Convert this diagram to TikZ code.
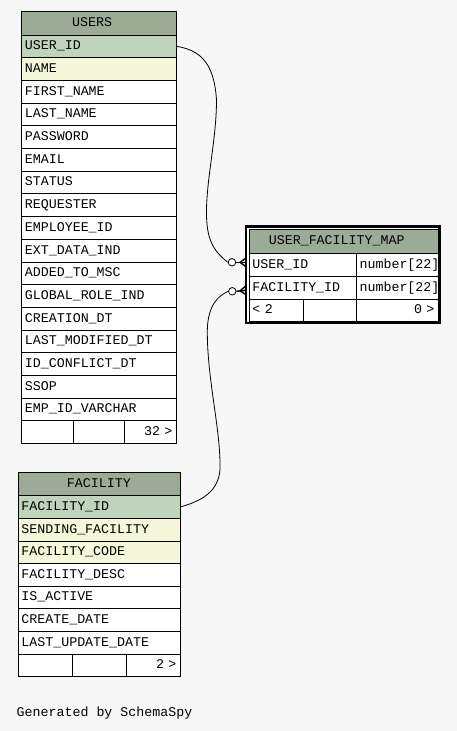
\documentclass[tikz,border=0pt]{standalone}
\usepackage{fontspec}
\newfontfamily\monofnt{Liberation Mono}
\usetikzlibrary{calc}
\definecolor{hdr}{HTML}{9BAB96}
\definecolor{pk}{HTML}{BFD4BB}
\definecolor{idx}{HTML}{F4F7DA}
\definecolor{bg}{HTML}{F7F7F7}
\begin{document}
\begin{tikzpicture}[x=1pt,y=-1pt,
  txt/.style={font=\monofnt\fontsize{13.3}{14}\selectfont, text=black, text height=9pt, text depth=2pt},
  cell/.style={txt, draw=black, line width=0.8pt, anchor=north west, inner xsep=3.5pt, inner ysep=0pt, fill=white},
  hdrtxt/.style={txt, inner sep=0pt},
  conn/.style={draw=black, line width=0.8pt},
  crow/.style={draw=black, line width=1.4pt},
  ring/.style={circle, draw=black, line width=0.8pt, fill=white, minimum size=7.5pt, inner sep=0pt}]
\useasboundingbox (0,0) rectangle (457,731);
\fill[bg] (0,0) rectangle (457,731);

% USERS
\node[cell, fill=hdr, minimum width=154.5pt, minimum height=23.5pt] (uh) at (21,11) {};
\node[hdrtxt] (uht) at ($(uh.center)+(-6.5,0)$) {USERS};
\foreach \t/\c [count=\i from 0] in {USER\_ID/pk, NAME/idx, FIRST\_NAME/white, LAST\_NAME/white, PASSWORD/white, EMAIL/white, STATUS/white, REQUESTER/white, EMPLOYEE\_ID/white, EXT\_DATA\_IND/white, ADDED\_TO\_MSC/white, GLOBAL\_ROLE\_IND/white, CREATION\_DT/white, LAST\_MODIFIED\_DT/white, ID\_CONFLICT\_DT/white, SSOP/white, EMP\_ID\_VARCHAR/white}
  \node[cell, fill=\c, minimum width=154.5pt, minimum height=22.7pt, text width=147.5pt, align=left] (u\i) at (21,{34.5+22.7*\i}) {\t};
\node[cell, minimum width=52pt, minimum height=22.7pt] (uf1) at (21,420.4) {};
\node[cell, minimum width=51pt, minimum height=22.7pt] (uf2) at (73,420.4) {};
\node[cell, minimum width=51.5pt, minimum height=22.7pt, text width=44.5pt, align=right] (uf3) at (124,420.4) {32 >};

% FACILITY
\node[cell, fill=hdr, minimum width=162pt, minimum height=23.6pt] (fh) at (17.5,471.7) {};
\node[hdrtxt] (fht) at (fh.center) {FACILITY};
\foreach \t/\c [count=\i from 0] in {FACILITY\_ID/pk, SENDING\_FACILITY/idx, FACILITY\_CODE/idx, FACILITY\_DESC/white, IS\_ACTIVE/white, CREATE\_DATE/white, LAST\_UPDATE\_DATE/white}
  \node[cell, fill=\c, minimum width=162pt, minimum height=22.6pt, text width=155pt, align=left] (f\i) at (17.5,{495.3+22.6*\i}) {\t};
\node[cell, minimum width=54.8pt, minimum height=22.6pt] (ff1) at (17.5,653.5) {};
\node[cell, minimum width=53.4pt, minimum height=22.6pt] (ff2) at (72.3,653.5) {};
\node[cell, minimum width=53.8pt, minimum height=22.6pt, text width=46.8pt, align=right] (ff3) at (125.7,653.5) {2 >};

% USER_FACILITY_MAP
\node[draw=black, fill=white, line width=2.5pt, anchor=north west, inner sep=0pt, outer sep=0pt, minimum width=193.5pt, minimum height=96.5pt] (mframe) at (246,226.3) {};
\node[cell, fill=hdr, minimum width=189pt, minimum height=24.5pt] (mh) at (248.5,228.8) {};
\node[hdrtxt] (mht) at ($(mh.center)+(-6.7,0)$) {USER\_FACILITY\_MAP};
\node[cell, minimum width=107.2pt, minimum height=22.7pt, text width=100.2pt, align=left] (m0) at (248.5,253.3) {USER\_ID};
\node[cell, minimum width=81.8pt, minimum height=22.7pt, text width=74.8pt, align=left] (m0t) at (355.7,253.3) {number[22]};
\node[cell, minimum width=107.2pt, minimum height=22.7pt, text width=100.2pt, align=left] (m1) at (248.5,276) {FACILITY\_ID};
\node[cell, minimum width=81.8pt, minimum height=22.7pt, text width=74.8pt, align=left] (m1t) at (355.7,276) {number[22]};
\node[cell, minimum width=54.8pt, minimum height=22.3pt, text width=47.8pt, align=left] (mf1) at (248.5,298.7) {< 2};
\node[cell, minimum width=52.4pt, minimum height=22.3pt] (mf2) at (303.3,298.7) {};
\node[cell, minimum width=81.8pt, minimum height=22.3pt, text width=74.8pt, align=right] (mf3) at (355.7,298.7) {0 >};

% connector USERS.USER_ID -> MAP.USER_ID
\node[ring] (o1) at (232,262.3) {};
\coordinate (k1) at (245.5,262.3);
\draw[conn] (u0.east) .. controls (198,50) and (214,60) .. (216.5,100)
  .. controls (216.5,140) and (206,180) .. (206.5,215)
  .. controls (207,238) and (212,250) .. (o1.west);
\draw[crow] (o1.east) -- (k1);
\draw[crow] ($(k1)+(-5.5,0)$) -- ($(k1)+(0,-4)$);
\draw[crow] ($(k1)+(-5.5,0)$) -- ($(k1)+(0,4)$);

% connector FACILITY.FACILITY_ID -> MAP.FACILITY_ID
\node[ring] (o2) at (232.3,291.3) {};
\coordinate (k2) at (245.5,290.3);
\draw[conn] (o2.west) .. controls (218,296) and (208,305) .. (207.3,330)
  .. controls (207,380) and (221,430) .. (220,470)
  .. controls (218,490) and (205,500) .. (f0.east);
\draw[crow] (o2.east) -- (k2);
\draw[crow] ($(k2)+(-5.5,0.5)$) -- ($(k2)+(0,-4)$);
\draw[crow] ($(k2)+(-5.5,0.5)$) -- ($(k2)+(0,4)$);

\node[txt, anchor=base west, inner sep=0pt] (gen) at (16.5,716.5) {Generated by SchemaSpy};
\end{tikzpicture}
\end{document}
